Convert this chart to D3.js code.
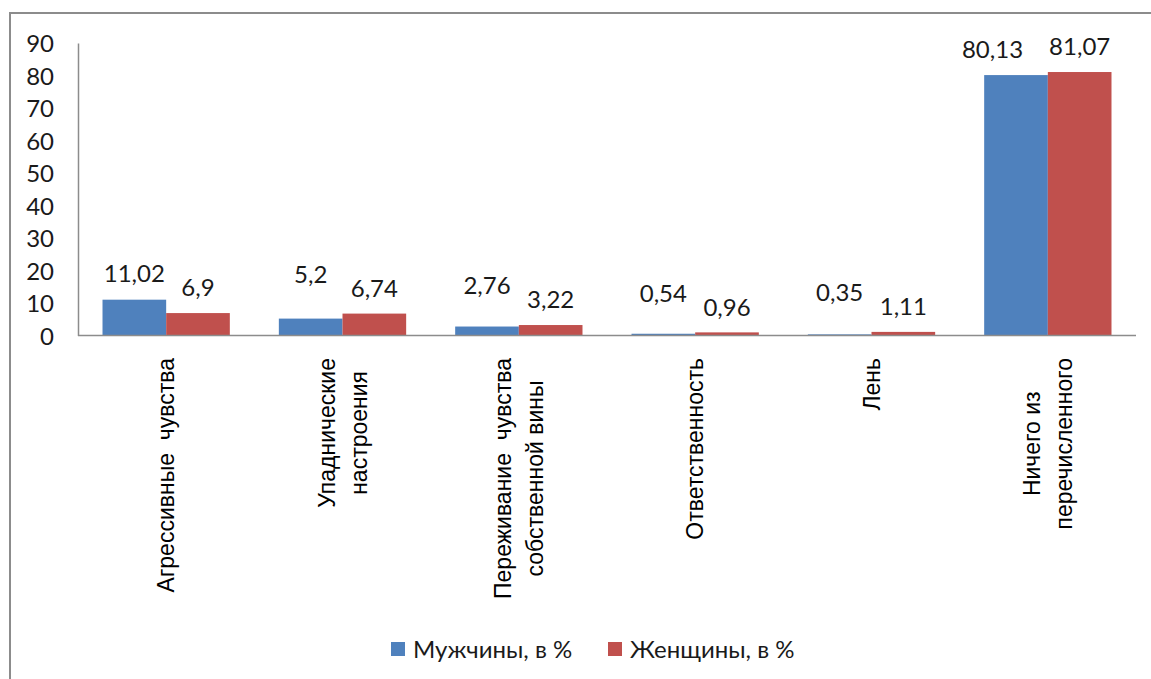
<!DOCTYPE html>
<html>
<head>
<meta charset="utf-8">
<script src="https://cdn.jsdelivr.net/npm/d3@7"></script>
<style>
  html, body { margin: 0; padding: 0; background: #fff; }
  svg { display: block; }
</style>
</head>
<body>
<svg id="chart" width="1151" height="679"></svg>
<script>
// ---- data ----
const categories = [
  "Агрессивные  чувства",
  "Упаднические настроения",
  "Переживание  чувства собственной вины",
  "Ответственность",
  "Лень",
  "Ничего из перечисленного"
];
const categoryLines = [
  ["Агрессивные  чувства"],
  ["Упаднические", "настроения"],
  ["Переживание  чувства", "собственной вины"],
  ["Ответственность"],
  ["Лень"],
  ["Ничего из", "перечисленного"]
];
const seriesNames = ["Мужчины, в %", "Женщины, в %"];
const men   = [11.02, 5.2, 2.76, 0.54, 0.35, 80.13];
const women = [6.9, 6.74, 3.22, 0.96, 1.11, 81.07];
const yTicks = [0, 10, 20, 30, 40, 50, 60, 70, 80, 90];

// ---- layout ----
const colors = ["#4F81BD", "#C0504D"];
const svg = d3.select("#chart");
const plotLeft = 78, plotRight = 1136, plotTop = 43, plotBottom = 335.5;
const numFont = "Lato, 'Open Sans', sans-serif";
const catFont = "'Liberation Sans', Arial, sans-serif";
const numSize = 24;

// outer frame (its right and bottom edges lie outside the picture)
svg.append("rect")
  .attr("x", 10).attr("y", 13)
  .attr("width", 1200).attr("height", 700)
  .attr("fill", "none").attr("stroke", "#8c8c8c").attr("stroke-width", 2);

const y = d3.scaleLinear().domain([0, 90]).range([plotBottom, plotTop]);
const x0 = d3.scaleBand().domain(categories).range([plotLeft, plotRight]).paddingInner(0).paddingOuter(0);
const x1 = d3.scaleBand().domain(seriesNames).range([0, x0.bandwidth()]).paddingInner(0).paddingOuter(0.385);

const data = categories.map((c, i) => ({ cat: c, vals: [men[i], women[i]] }));

// y axis
const yAxis = svg.append("g")
  .attr("transform", `translate(${plotLeft},0)`)
  .call(d3.axisLeft(y).tickValues(yTicks).tickSize(0).tickPadding(24).tickFormat(d3.format("d")));
yAxis.select(".domain").attr("stroke", "#8c8c8c").attr("stroke-width", 1.5);
yAxis.selectAll("text")
  .attr("font-family", numFont).attr("font-size", numSize).attr("fill", "#1a1a1a")
  .attr("dy", "0.36em");

// bars
const groups = svg.append("g").selectAll("g").data(data).join("g")
  .attr("transform", d => `translate(${x0(d.cat)},0)`);
groups.selectAll("rect")
  .data(d => d.vals.map((v, k) => ({ name: seriesNames[k], v, k })))
  .join("rect")
  .attr("x", d => x1(d.name))
  .attr("y", d => y(d.v))
  .attr("width", x1.bandwidth())
  .attr("height", d => y(0) - y(d.v))
  .attr("fill", d => colors[d.k]);

// x axis line
svg.append("line")
  .attr("x1", plotLeft).attr("x2", plotRight)
  .attr("y1", plotBottom).attr("y2", plotBottom)
  .attr("stroke", "#8c8c8c").attr("stroke-width", 1.5);

// data labels (Excel-like: above bars; left label moved away when the two collide)
const fmt = v => String(v).replace(".", ",");
const labelGap = 25.5, stagger = 14, minHGap = 26;
groups.each(function(d) {
  const g = d3.select(this);
  const redY = y(d.vals[1]) - labelGap;
  let blueY = y(d.vals[0]) - labelGap;
  if (Math.max(d.vals[0], d.vals[1]) < 20) blueY = Math.min(blueY, redY - stagger);
  const ys = [blueY, redY];
  const texts = d.vals.map((v, k) => g.append("text")
    .attr("x", x1(seriesNames[k]) + x1.bandwidth() / 2)
    .attr("y", ys[k])
    .attr("dy", "0.36em")
    .attr("text-anchor", "middle")
    .attr("font-family", numFont).attr("font-size", numSize).attr("fill", "#1a1a1a")
    .text(fmt(v)));
  if (Math.abs(blueY - redY) < 10) {
    const b = texts[0].node().getBBox(), r = texts[1].node().getBBox();
    const gap = r.x - (b.x + b.width);
    if (gap < minHGap) texts[0].attr("x", +texts[0].attr("x") - (minHGap - gap));
  }
});

// category labels (rotated, reading bottom to top)
const lineStep = 32, labelTop = 358;
categories.forEach((c, i) => {
  const cx = x0(c) + x0.bandwidth() / 2;
  const g = svg.append("g").attr("transform", `translate(${cx},${labelTop}) rotate(-90)`);
  const lines = categoryLines[i];
  const texts = lines.map((ln, j) => g.append("text")
    .attr("y", (j - (lines.length - 1) / 2) * lineStep)
    .attr("dy", "0.35em")
    .attr("text-anchor", "middle")
    .attr("font-family", catFont).attr("font-size", 23).attr("fill", "#000")
    .style("white-space", "pre")
    .text(ln));
  const maxLen = d3.max(texts, t => t.node().getComputedTextLength());
  texts.forEach(t => t.attr("x", -maxLen / 2));
});

// legend
const legendX = [391, 608];
seriesNames.forEach((s, k) => {
  svg.append("rect")
    .attr("x", legendX[k]).attr("y", 642)
    .attr("width", 14).attr("height", 14)
    .attr("fill", colors[k]);
  svg.append("text")
    .attr("x", legendX[k] + 22).attr("y", 649)
    .attr("dy", "0.36em")
    .attr("font-family", numFont).attr("font-size", numSize).attr("fill", "#1a1a1a")
    .text(s);
});
</script>
</body>
</html>
